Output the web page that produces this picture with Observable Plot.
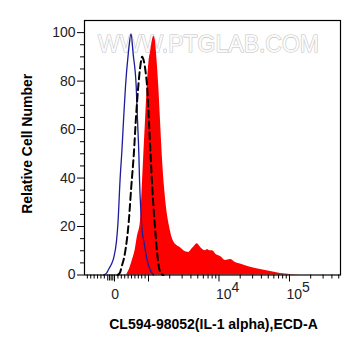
<!DOCTYPE html>
<html>
<head>
<meta charset="utf-8">
<script src="https://cdn.jsdelivr.net/npm/d3@7"></script>
<script src="https://cdn.jsdelivr.net/npm/@observablehq/plot@0.6"></script>
<style>
  html, body { margin: 0; padding: 0; background: #fff; overflow: hidden; }
</style>
</head>
<body>
<div id="chart"></div>
<script>
// Display positions (decades of the logicle-like axis, 0 = zero) and % of max
const blueX = [-0.156,-0.113,-0.081,-0.043,-0.010,0.028,0.050,0.078,0.106,0.128,0.156,0.194,0.234,0.265,0.308,0.326,0.345,0.355,0.376,0.397,0.416,0.440,0.464,0.511,0.553];
const blueY = [0,0.8,2.5,4.5,7.3,14,22,39,52,64,78,91,99.5,91,77.5,64,50,39,25,17,14,9.5,5.9,1.8,0];

const dashX = [0.043,0.078,0.099,0.146,0.203,0.237,0.274,0.302,0.336,0.365,0.392,0.418,0.440,0.464,0.487,0.511,0.535,0.567,0.606,0.631,0.667,0.695];
const dashY = [0,1,3.2,8.7,22.4,36.2,50,63.8,77.5,86,90,88,84,77,64,50,36.2,22.4,8.7,3,0.4,0];

const redX = [0.170,0.213,0.251,0.291,0.322,0.369,0.393,0.416,0.440,0.464,0.489,0.511,0.539,0.557,0.578,0.596,0.628,0.652,0.676,0.709,0.745,0.780,0.816,0.851,0.889,0.936,0.983,1.054,1.092,1.125,1.173,1.206,1.244,1.291,1.319,1.348,1.386,1.411,1.433,1.504,1.574,1.645,1.716,1.787,1.929,2.071,2.213,2.355,2.496,2.638];
const redY = [0,2.5,5.9,10,15.5,22.4,36.2,50,63.8,77.5,88,92,97,98.5,97,91.3,77.5,63.8,50,36.2,26,20,15.5,13.2,12.1,11.2,10,9.3,10.5,11.6,12.9,12,10.7,10,10.5,10,10,9.6,8.7,7.6,6,6.4,5.2,4.5,3.2,2.3,1.4,0.6,0.2,0];

// Axis ticks (fluorescence values)
const yMajorTicks = [0,20,40,60,80,100];
const yMinorTicks = [5,10,15,25,30,35,45,50,55,65,70,75,85,90,95];
const xMajorTicks = [0,1e3,1e4,1e5];
const xZeroCluster = [-200,-150,-100,-50];
const xMinorTicks = [-800,-700,-600,-500,-400,-300,
  100,200,300,400,500,600,700,800,900,
  2e3,3e3,4e3,5e3,6e3,7e3,8e3,9e3,
  2e4,3e4,4e4,5e4,6e4,7e4,8e4,9e4,
  2e5,3e5,4e5,5e5];
const xTickLabels = [
  {v: 0, base: "0", exp: ""},
  {v: 1e4, base: "10", exp: "4"},
  {v: 1e5, base: "10", exp: "5"}
];
const xTitle = "CL594-98052(IL-1 alpha),ECD-A";
const yTitle = "Relative Cell Number";
const watermark = "WWW.PTGLAB.COM";

// logicle-like display transform: linear below 10^3, log above
const pos = v => v <= 1000 ? v / 1000 * 0.482 : 0.482 + Math.log10(v / 1000);

const toRows = (xs, ys) => xs.map((x, i) => ({x, y: ys[i]}));
const blue = toRows(blueX, blueY);
const dash = toRows(dashX, dashY);
const red = toRows(redX, redY);

const font = "'Liberation Sans', Arial, Helvetica, sans-serif";

const chart = Plot.plot({
  width: 361,
  height: 356,
  marginLeft: 84,
  marginRight: 21,
  marginTop: 20,
  marginBottom: 81.5,
  x: {domain: [-0.426, 3.206], label: null, axis: null},
  y: {domain: [0, 105], label: null, axis: null},
  style: {fontFamily: font, fontSize: "14px", background: "white", color: "black"},
  marks: [
    Plot.text([watermark], {frameAnchor: "top", dx: -4, dy: 15.5, fontSize: 23, fill: "#fbfbfb", stroke: "#c2c2c2", strokeWidth: 1.1, fontFamily: font}),
    Plot.areaY(red, {x: "x", y: "y", fill: "#ff0000", curve: "monotone-x"}),
    Plot.line(blue, {x: "x", y: "y", stroke: "#1c1c9c", strokeWidth: 1.3, curve: "monotone-x"}),
    Plot.line(dash, {x: "x", y: "y", stroke: "black", strokeWidth: 2, strokeDasharray: "7,4", curve: "monotone-x"}),
    Plot.frame({stroke: "black", strokeWidth: 1.2}),
    Plot.axisY(yMajorTicks, {tickSize: 7, tickPadding: 2, fontSize: 14, fill: "#222", label: null}),
    Plot.axisY(yMinorTicks, {tickSize: 4, tickFormat: () => "", label: null}),
    Plot.axisX(xMajorTicks.map(pos), {tickSize: 7, tickFormat: () => "", label: null}),
    Plot.axisX(xZeroCluster.map(pos), {tickSize: 6, tickFormat: () => "", label: null}),
    Plot.axisX(xMinorTicks.map(pos), {tickSize: 4, tickFormat: () => "", label: null}),
    Plot.text(xTickLabels.filter(d => !d.exp), {x: d => pos(d.v), frameAnchor: "bottom", dy: 23.5, dx: 0.7, text: d => d.base, fontSize: 14, fill: "#222"}),
    Plot.text(xTickLabels.filter(d => d.exp), {x: d => pos(d.v), frameAnchor: "bottom", dy: 23.5, dx: -3, textAnchor: "start", text: d => d.base, fontSize: 14, fill: "#222"}),
    Plot.text(xTickLabels.filter(d => d.exp), {x: d => pos(d.v), frameAnchor: "bottom", dy: 16.8, dx: 12.6, textAnchor: "start", text: d => d.exp, fontSize: 14, fill: "#222"}),
    Plot.text([xTitle], {frameAnchor: "bottom", dy: 54, dx: 1, fontSize: 14, fontWeight: "bold", fill: "black"}),
    Plot.text([yTitle], {frameAnchor: "left", dx: -57, dy: -4, rotate: -90, textAnchor: "middle", fontSize: 14, fontWeight: "bold", fill: "black"})
  ]
});
document.getElementById("chart").appendChild(chart);
</script>
</body>
</html>
